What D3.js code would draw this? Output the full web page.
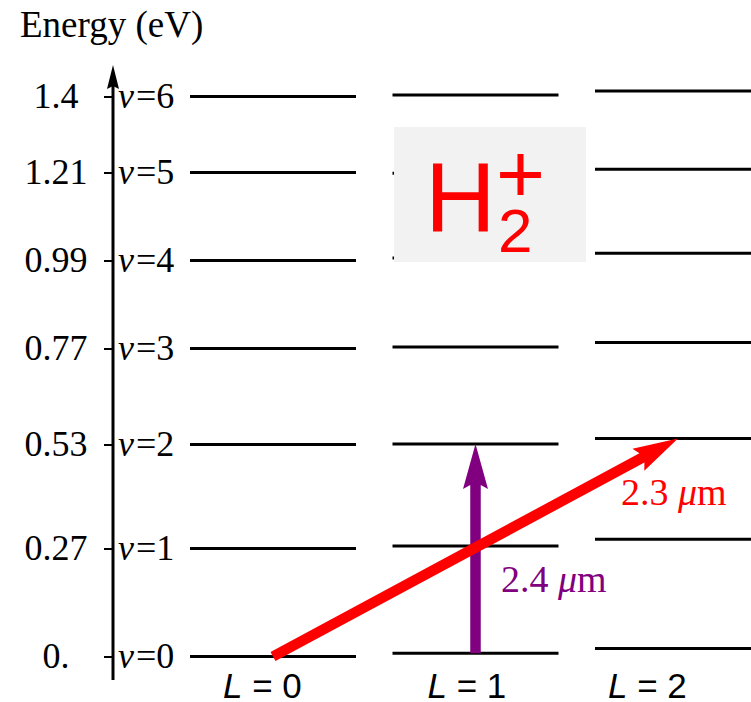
<!DOCTYPE html>
<html>
<head>
<meta charset="utf-8">
<script src="https://cdn.jsdelivr.net/npm/d3@7"></script>
<style>
  html, body { margin: 0; padding: 0; background: #fff; }
  svg { display: block; }
</style>
</head>
<body>
<svg id="chart" width="751" height="702"></svg>
<script>
// Vibrational–rotational energy levels of H2+ (eV)
const energyTicks = [0, 0.27, 0.53, 0.77, 0.99, 1.21, 1.4];
const tickLabels  = ["0.", "0.27", "0.53", "0.77", "0.99", "1.21", "1.4"];
const vibQuanta   = [0, 1, 2, 3, 4, 5, 6];
const rotQuanta   = [0, 1, 2];

// level energies for each rotational quantum number L, indexed by v
const levelsL0 = [0.000, 0.270, 0.530, 0.770, 0.990, 1.210, 1.400];
const levelsL1 = [0.008, 0.276, 0.531, 0.774, 0.996, 1.208, 1.404];
const levelsL2 = [0.020, 0.293, 0.545, 0.785, 1.008, 1.218, 1.414];
const levels = [levelsL0, levelsL1, levelsL2];

// laser transitions: (L, v) -> (L, v), wavelength in µm
const transFrom  = [[1, 0], [0, 0]];
const transTo    = [[1, 2], [2, 2]];
const transWave  = ["2.4", "2.3"];

const transColors = ["#800080", "#ff0000"];

const svg = d3.select("#chart");

// scales
const y = d3.scaleLinear().domain([0, 1.4]).range([656.5, 96.5]);
const colStart = d3.scaleLinear().domain([0, 1]).range([190, 392.5]);
const colWidth = 166;
const colMid = L => colStart(L) + colWidth / 2;

const serif = "'Liberation Serif', 'Times New Roman', serif";
const sans  = "'Liberation Sans', Arial, sans-serif";

// level lines
const levelData = [];
rotQuanta.forEach(L => vibQuanta.forEach(v => levelData.push({L, v, E: levels[L][v]})));
svg.append("g")
  .selectAll("line")
  .data(levelData)
  .join("line")
  .attr("x1", d => colStart(d.L))
  .attr("x2", d => colStart(d.L) + colWidth)
  .attr("y1", d => y(d.E))
  .attr("y2", d => y(d.E))
  .attr("stroke", "#000")
  .attr("stroke-width", 3);

// energy axis
const axisX = 113;
const axisG = svg.append("g").attr("transform", `translate(${axisX},0)`);
axisG.call(
  d3.axisLeft(y)
    .tickValues(energyTicks)
    .tickSize(9)
    .tickFormat((d, i) => tickLabels[i])
);
axisG.select(".domain").remove();
axisG.selectAll(".tick line").attr("stroke", "#000").attr("stroke-width", 2);
axisG.selectAll(".tick text")
  .attr("x", -57)
  .attr("dy", null)
  .attr("y", 11)
  .attr("text-anchor", "middle")
  .attr("font-family", serif)
  .attr("font-size", 36)
  .attr("fill", "#000");

// axis line with arrowhead
axisG.append("line")
  .attr("x1", 0).attr("x2", 0)
  .attr("y1", 680).attr("y2", 84)
  .attr("stroke", "#000").attr("stroke-width", 3);
axisG.append("path")
  .attr("d", "M0,65 L6,89 L0,86 L-6,89 Z")
  .attr("fill", "#000");

// axis title
svg.append("text")
  .attr("x", 20).attr("y", 37)
  .attr("font-family", serif)
  .attr("font-size", 37)
  .attr("fill", "#000")
  .text("Energy (eV)");

// vibrational labels
const vLab = svg.append("g")
  .selectAll("text")
  .data(vibQuanta)
  .join("text")
  .attr("x", 118)
  .attr("y", v => y(levelsL0[v]) + 11)
  .attr("font-family", serif)
  .attr("font-size", 36)
  .attr("fill", "#000");
vLab.append("tspan").attr("font-style", "italic").text("v");
vLab.append("tspan").attr("dx", 2).text(v => "=" + v);

// rotational labels
const labelShift = [33, 35, 13];
const lLab = svg.append("g")
  .selectAll("text")
  .data(rotQuanta)
  .join("text")
  .attr("x", L => colStart(L) + labelShift[L])
  .attr("y", 698)
  .attr("font-family", sans)
  .attr("font-size", 35)
  .attr("fill", "#000");
lLab.append("tspan").attr("font-style", "italic").text("L");
lLab.append("tspan").text(L => " = " + L);

// molecule badge
const badgeX = colStart(1) + 1.5;
svg.append("rect")
  .attr("x", badgeX).attr("y", 127)
  .attr("width", 586 - badgeX).attr("height", 135)
  .attr("fill", "#f2f2f2");
const red = "#ff0000";
const formula = svg.append("text")
  .attr("x", 425).attr("y", 231)
  .attr("font-family", sans)
  .attr("fill", red);
formula.append("tspan").attr("font-size", 98).text("H");
formula.append("tspan").attr("font-size", 62).attr("x", 498).attr("y", 252).text("2");
formula.append("tspan").attr("font-size", 84).attr("x", 496).attr("y", 202).text("+");

// thick arrow outline from (x1,y1) to tip (x2,y2)
function arrowPath(x1, y1, x2, y2, shaftW, headLen, headW, notch) {
  const dx = x2 - x1, dy = y2 - y1;
  const len = Math.hypot(dx, dy);
  const ux = dx / len, uy = dy / len;
  const px = -uy, py = ux;
  const pt = (a, b) => [x1 + ux * a + px * b, y1 + uy * a + py * b];
  const bL = len - headLen;
  const pts = [
    pt(0, -shaftW / 2),
    pt(bL + notch, -shaftW / 2),
    pt(bL, -headW / 2),
    pt(len, 0),
    pt(bL, headW / 2),
    pt(bL + notch, shaftW / 2),
    pt(0, shaftW / 2)
  ];
  return d3.line()(pts) + "Z";
}

// transitions
const transG = svg.append("g");
transFrom.forEach((f, i) => {
  const t = transTo[i];
  transG.append("path")
    .attr("d", arrowPath(
      colMid(f[0]), y(levels[f[0]][f[1]]),
      colMid(t[0]), y(levels[t[0]][t[1]]),
      10.5, 45, 25, 4))
    .attr("fill", transColors[i]);
});

// wavelength labels
const waveText = svg.append("g")
  .selectAll("text")
  .data([0, 1])
  .join("text")
  .attr("x", i => i === 0 ? 501 : 621)
  .attr("y", i => i === 0 ? 592 : 505)
  .attr("font-family", serif)
  .attr("font-size", 38)
  .attr("fill", i => transColors[i]);
waveText.append("tspan").text(i => transWave[i] + " ");
waveText.append("tspan").attr("font-style", "italic").text("\u03bc");
waveText.append("tspan").text("m");
</script>
</body>
</html>
